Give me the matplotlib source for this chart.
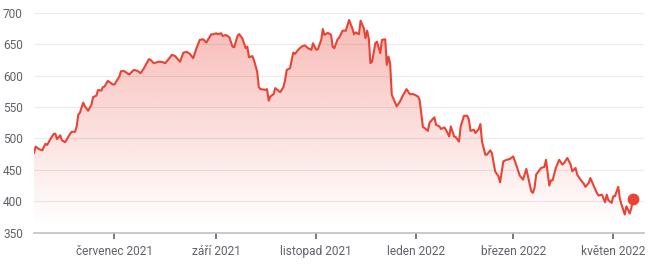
import matplotlib
matplotlib.use("Agg")
import matplotlib.pyplot as plt
import matplotlib.dates as mdates
import numpy as np
import pandas as pd

plt.rcParams['font.family'] = ['Roboto', 'DejaVu Sans']

start_date = "2021-05-13"
day_offsets = [0, 1, 3, 5, 7, 8, 10, 12, 13, 14, 16, 17, 19, 22, 23, 25, 26, 27, 28, 30,
               31, 33, 35, 36, 38, 39, 41, 42, 43, 45, 48, 49, 51, 52, 53, 55, 58, 60, 61, 63,
               65, 67, 70, 71, 73, 76, 78, 80, 82, 84, 86, 89, 91, 93, 95, 97, 99, 101, 103, 105,
               108, 109, 111, 112, 114, 115, 117, 119, 121, 122, 124, 125, 127, 129, 130, 131, 133, 134, 136, 137,
               138, 141, 142, 143, 144, 146, 147, 150, 152, 153, 154, 156, 158, 159, 161, 163, 165, 167, 169, 170,
               172, 173, 175, 176, 177, 179, 181, 182, 183, 185, 186, 188, 190, 192, 194, 195, 196, 198, 199, 201,
               202, 203, 204, 205, 206, 208, 209, 211, 212, 214, 215, 216, 217, 218, 221, 223, 225, 227, 229, 231,
               234, 235, 237, 238, 240, 241, 243, 244, 245, 247, 248, 250, 251, 253, 254, 256, 257, 259, 260, 262,
               264, 265, 266, 268, 269, 271, 272, 273, 275, 276, 278, 279, 281, 283, 284, 286, 288, 290, 292, 294,
               296, 298, 300, 301, 303, 304, 305, 306, 307, 309, 311, 312, 314, 315, 316, 318, 320, 322, 323, 325,
               327, 328, 330, 331, 333, 335, 336, 338, 339, 341, 343, 344, 346, 348, 349, 350, 352, 353, 354, 356,
               357, 358, 360, 361, 363, 364, 365]
prices = [477, 487, 483, 481, 491.6, 489.5, 499, 507, 507.5, 499, 505, 497, 494, 507.5, 510.6, 510.6, 519, 537.6, 541, 557,
          551, 544, 553.5, 565.7, 568, 577, 576, 581.6, 582.6, 591.6, 586, 585.7, 594, 598.4, 607, 607, 601.6, 607, 609, 607.5,
          603.8, 611.7, 626, 625, 619.7, 622, 621.7, 619.7, 626, 633, 631, 622, 636.5, 637.6, 634.4, 627.6, 643.5, 656.7, 657.8, 652.4,
          665.7, 665.5, 667.3, 665.7, 667.3, 663, 664.6, 661, 646, 645, 663, 666, 659, 643.5, 646, 629, 631, 625, 606, 581.6,
          578.4, 577.3, 578.4, 560, 566.7, 570.5, 580, 573.6, 581.6, 593, 609, 611.7, 636.5, 634.4, 641, 646, 648, 643.5, 641, 651.4,
          641, 642, 656.7, 674, 664.6, 668, 665, 646, 643.5, 657.8, 660.3, 671.4, 671.4, 688.4, 675, 665.7, 668.8, 665.7, 687.3, 675,
          659.4, 671.4, 659.4, 619.7, 622, 651.4, 654, 635.6, 656.7, 657.8, 617, 630, 619.7, 569.4, 551, 558.7, 569.4, 578.4, 570.5, 570.5,
          566.7, 561, 518, 516.5, 512, 525, 531, 533.5, 521.7, 519, 515, 517.5, 513.8, 503, 519, 503, 502, 495, 519, 536,
          536, 529.7, 512, 513.8, 508.6, 515, 522.9, 495, 474.1, 474.1, 481, 476.8, 447.6, 439.7, 430, 463.5, 466, 467.3, 471.4, 456.7,
          440.8, 434.4, 451.4, 439.7, 415.9, 413.3, 421.3, 442.4, 446, 453, 454.6, 466, 424.9, 433.3, 433.3, 453, 466, 458.3, 460.9, 468.9,
          458.3, 447.6, 453, 442.4, 434.4, 428, 422.9, 429.2, 437, 424.9, 413.3, 409.1, 410.6, 398.4, 410.6, 401.6, 397.5, 408, 408, 423,
          403.8, 394.8, 378.9, 392.1, 380.5, 389.5, 404]
assert len(day_offsets) == len(prices)

tick_dates = ["2021-07-01", "2021-09-01", "2021-11-01", "2022-01-01", "2022-03-01", "2022-05-01"]
tick_labels = ["červenec 2021", "září 2021", "listopad 2021", "leden 2022", "březen 2022", "květen 2022"]
y_ticks = [350, 400, 450, 500, 550, 600, 650, 700]

RED = '#ea4335'
GRAY_TXT = '#5f6368'

start = pd.Timestamp(start_date)
dates = start + pd.to_timedelta(day_offsets, unit='D')
x = mdates.date2num(dates.to_pydatetime())
y = np.array(prices, dtype=float)

fig = plt.figure(figsize=(6.5, 2.66), dpi=100)
ax = fig.add_axes([34/650, 33.3/266, 610/650, 220/266])

x0 = mdates.date2num(start.to_pydatetime())
x1 = x0 + 371.7
ymin, ymax = 350, 700

poly = ax.fill_between(x, y, ymin, facecolor='none', edgecolor='none', lw=0)
grad = np.zeros((256, 1, 4))
rgb = matplotlib.colors.to_rgb(RED)
grad[:, 0, :3] = rgb
grad[:, 0, 3] = np.linspace(0.36, 0.0, 256)
im = ax.imshow(grad, extent=[x0, x1, 360, y.max()], aspect='auto', origin='upper', zorder=1,
               interpolation='bilinear')
im.set_clip_path(poly.get_paths()[0], transform=ax.transData)

ax.plot(x, y, color=RED, lw=1.5, zorder=3, solid_joinstyle='round')
ax.plot(x[-1], y[-1], 'o', ms=7.5, color=RED, zorder=4, clip_on=False)

ax.set_xlim(x0, x1)
ax.set_ylim(ymin, ymax)

ax.set_yticks(y_ticks)
ax.yaxis.grid(True, color='#ebebeb', lw=0.8, zorder=0)
ax.set_axisbelow(True)
ax.tick_params(axis='y', length=0, labelsize=8.6, labelcolor=GRAY_TXT, pad=8)

tick_x = [mdates.date2num(pd.Timestamp(d).to_pydatetime()) for d in tick_dates]
ax.set_xticks(tick_x)
ax.set_xticklabels(tick_labels)
ax.tick_params(axis='x', length=4, width=1.2, color=GRAY_TXT, labelsize=8.6, labelcolor=GRAY_TXT, pad=5)

for s in ['top', 'right', 'left']:
    ax.spines[s].set_visible(False)
ax.spines['bottom'].set_color('#bdc1c6')
ax.spines['bottom'].set_linewidth(1.2)

fig.savefig('out.png', dpi=100)
